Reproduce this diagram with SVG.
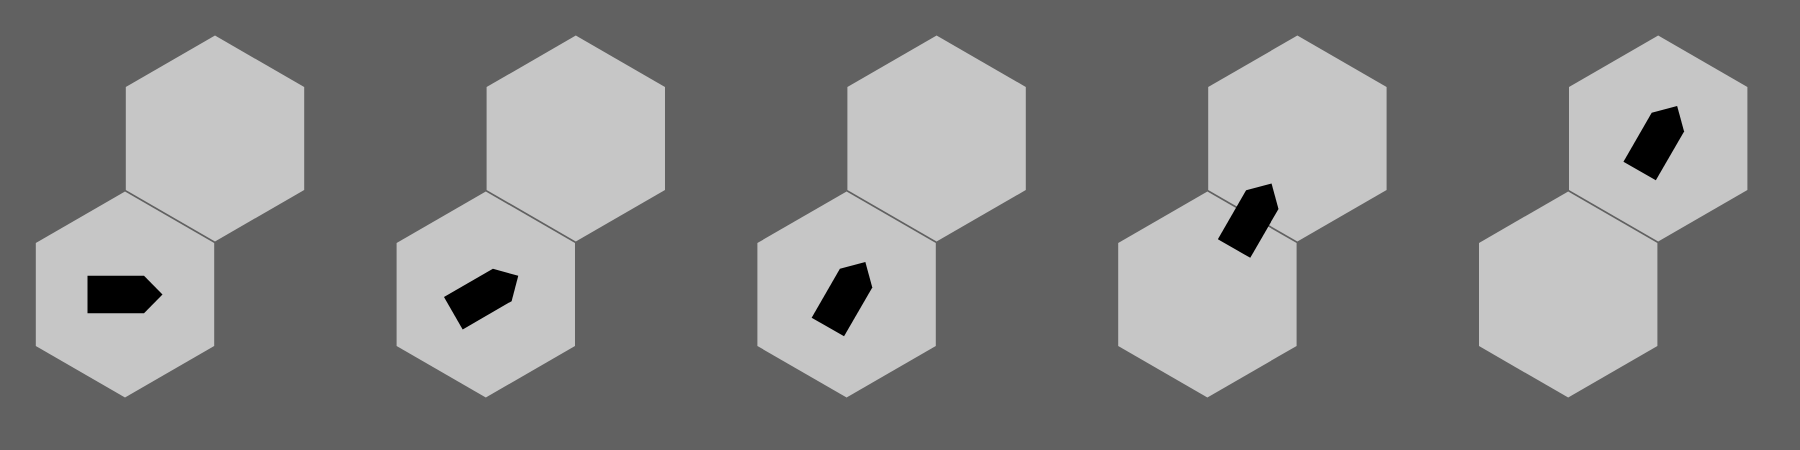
<svg xmlns="http://www.w3.org/2000/svg" xmlns:xlink="http://www.w3.org/1999/xlink" width="1800" height="450" viewBox="0 0 1800 450">
  <style>
    .hex { fill: #c6c6c6; }
    .piece { fill: #000000; }
  </style>
  <defs>
    <polygon id="hex" class="hex" points="0,-103 89.2,-51.5 89.2,51.5 0,103 -89.2,51.5 -89.2,-51.5"/>
    <polygon id="piece" class="piece" points="-37.5,-18.7 19,-18.7 37.5,0 19,18.7 -37.5,18.7"/>
  </defs>
  <rect x="0" y="0" width="1800" height="450" fill="#616161"/>

  <g id="panel1">
    <use id="p1-upper" xlink:href="#hex" href="#hex" transform="translate(215,138.5)"/>
    <use id="p1-lower" xlink:href="#hex" href="#hex" transform="translate(125,294.5)"/>
    <use id="p1-piece" xlink:href="#piece" href="#piece" transform="translate(125,294.5)"/>
  </g>

  <g id="panel2">
    <use id="p2-upper" xlink:href="#hex" href="#hex" transform="translate(575.8,138.5)"/>
    <use id="p2-lower" xlink:href="#hex" href="#hex" transform="translate(485.8,294.5)"/>
    <use id="p2-piece" xlink:href="#piece" href="#piece" transform="translate(485.8,294.5) rotate(-30)"/>
  </g>

  <g id="panel3">
    <use id="p3-upper" xlink:href="#hex" href="#hex" transform="translate(936.6,138.5)"/>
    <use id="p3-lower" xlink:href="#hex" href="#hex" transform="translate(846.6,294.5)"/>
    <use id="p3-piece" xlink:href="#piece" href="#piece" transform="translate(846.6,294.5) rotate(-60)"/>
  </g>

  <g id="panel4">
    <use id="p4-upper" xlink:href="#hex" href="#hex" transform="translate(1297.4,138.5)"/>
    <use id="p4-lower" xlink:href="#hex" href="#hex" transform="translate(1207.4,294.5)"/>
    <use id="p4-piece" xlink:href="#piece" href="#piece" transform="translate(1252.8,216) rotate(-60)"/>
  </g>

  <g id="panel5">
    <use id="p5-upper" xlink:href="#hex" href="#hex" transform="translate(1658.2,138.5)"/>
    <use id="p5-lower" xlink:href="#hex" href="#hex" transform="translate(1568.2,294.5)"/>
    <use id="p5-piece" xlink:href="#piece" href="#piece" transform="translate(1658.4,138.5) rotate(-60)"/>
  </g>

  <g id="connectors"/>
</svg>
